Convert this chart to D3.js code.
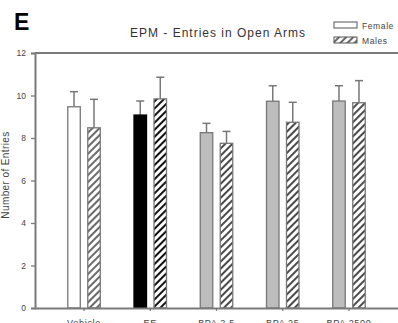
<!DOCTYPE html>
<html>
<head>
<meta charset="utf-8">
<script src="https://cdn.jsdelivr.net/npm/d3@7"></script>
<style>
  html, body { margin: 0; padding: 0; background: #fff; }
  svg { display: block; font-family: Arial, "Liberation Sans", sans-serif; }
</style>
</head>
<body>
<svg id="chart" width="398" height="323"></svg>
<script>
// Treatment groups along the x axis
const groups = ["Vehicle", "EE", "BPA 2.5", "BPA 25", "BPA 2500"];
const sexes = ["Female", "Males"];
// Mean entries into the open arms and the upper error (mean + SEM)
const femaleMean = [9.47, 9.08, 8.25, 9.73, 9.74];
const femaleErr  = [10.18, 9.74, 8.69, 10.46, 10.46];
const maleMean   = [8.48, 9.84, 7.75, 8.74, 9.66];
const maleErr    = [9.82, 10.86, 8.31, 9.68, 10.70];
const yTicks = [0, 2, 4, 6, 8, 10, 12];

// Per-group fill for the female bar and stroke for the male hatch
const femaleFill = ["#ffffff", "#000000", "#bdbdbd", "#bdbdbd", "#bdbdbd"];
const hatchInk   = ["#6a6a6a", "#111111", "#4a4a4a", "#4a4a4a", "#4a4a4a"];

const svg = d3.select("#chart");
const axisColor = "#7a7a7a";
const plotLeft = 35, plotRight = 398, plotTop = 53, plotBottom = 308;

const x = d3.scaleBand().domain(groups).range([plotLeft, plotRight]).paddingOuter(0.24).paddingInner(0);
const xs = d3.scaleBand().domain(sexes).range([-16.25, 16.25]).paddingInner(0.375).paddingOuter(0);
const y = d3.scaleLinear().domain([0, 12]).range([plotBottom, plotTop]);

// Hatch patterns for the male bars
const defs = svg.append("defs");
hatchInk.forEach((c, i) => {
  const p = defs.append("pattern")
    .attr("id", "hatch" + i)
    .attr("patternUnits", "userSpaceOnUse")
    .attr("width", 5).attr("height", 5)
    .attr("patternTransform", "rotate(45)");
  p.append("rect").attr("width", 5).attr("height", 5).attr("fill", "#fff");
  p.append("rect").attr("x", 0).attr("width", 2).attr("height", 5).attr("fill", c);
});

// Panel letter and title
svg.append("text").attr("x", 14).attr("y", 30)
  .attr("font-size", 23).attr("font-weight", "bold").attr("fill", "#000").text("E");
svg.append("text").attr("x", 218).attr("y", 37).attr("text-anchor", "middle")
  .attr("font-size", 12).attr("letter-spacing", 1).attr("fill", "#333")
  .text("EPM - Entries in Open Arms");

// Legend
const legend = svg.append("g");
[["Female", "#fff"], ["Males", "url(#hatch0)"]].forEach((d, i) => {
  legend.append("rect").attr("x", 334).attr("y", 22 + i * 15).attr("width", 23).attr("height", 6)
    .attr("fill", d[1]).attr("stroke", "#555").attr("stroke-width", 1);
  legend.append("text").attr("x", 362).attr("y", 29 + i * 15)
    .attr("font-size", 8.5).attr("letter-spacing", 0.6).attr("fill", "#444").text(d[0]);
});

// Top frame line
svg.append("line").attr("x1", plotLeft).attr("x2", plotRight).attr("y1", y(12)).attr("y2", y(12))
  .attr("stroke", axisColor).attr("stroke-width", 2);

// Bars
const rows = [];
groups.forEach((g, i) => {
  rows.push({ g, i, sex: "Female", v: femaleMean[i], e: femaleErr[i], fill: femaleFill[i] });
  rows.push({ g, i, sex: "Males", v: maleMean[i], e: maleErr[i], fill: "url(#hatch" + i + ")" });
});
const cx = d => x(d.g) + x.bandwidth() / 2 + xs(d.sex);

// Error bars (upper only)
const eb = svg.append("g").attr("stroke", "#777").attr("stroke-width", 1.5);
eb.selectAll("line.v").data(rows).join("line")
  .attr("x1", d => cx(d) + xs.bandwidth() / 2).attr("x2", d => cx(d) + xs.bandwidth() / 2)
  .attr("y1", d => y(d.v)).attr("y2", d => y(d.e));
eb.selectAll("line.c").data(rows).join("line")
  .attr("x1", d => cx(d) + xs.bandwidth() / 2 - 4).attr("x2", d => cx(d) + xs.bandwidth() / 2 + 4)
  .attr("y1", d => y(d.e)).attr("y2", d => y(d.e));

svg.append("g").selectAll("rect").data(rows).join("rect")
  .attr("x", d => cx(d)).attr("width", xs.bandwidth())
  .attr("y", d => y(d.v)).attr("height", d => y(0) - y(d.v))
  .attr("fill", d => d.fill)
  .attr("stroke", d => d.g === "EE" && d.sex === "Female" ? "#000" : "#777")
  .attr("stroke-width", 1.3);

// Y axis
const yAxis = svg.append("g").attr("transform", `translate(${plotLeft},0)`)
  .call(d3.axisLeft(y).tickValues(yTicks).tickSize(4).tickPadding(5));
yAxis.select(".domain").attr("stroke", axisColor).attr("stroke-width", 2);
yAxis.selectAll(".tick line").attr("stroke", axisColor).attr("stroke-width", 1.3);
yAxis.selectAll(".tick text").attr("font-size", 8.5).attr("fill", "#444").attr("font-family", "Arial, sans-serif");

// X axis
const xAxis = svg.append("g").attr("transform", `translate(0,${plotBottom})`)
  .call(d3.axisBottom(x).tickSize(3).tickPadding(4).tickSizeOuter(0));
xAxis.select(".domain").attr("stroke", axisColor).attr("stroke-width", 2);
xAxis.selectAll(".tick line").attr("stroke", axisColor).attr("stroke-width", 1.3);
xAxis.selectAll(".tick text").attr("font-size", 9).attr("letter-spacing", 0.7)
  .attr("fill", "#444").attr("font-family", "Arial, sans-serif")
  .attr("y", 12).attr("dy", "0.71em");

// Y axis title
svg.append("text")
  .attr("transform", "translate(9,175) rotate(-90)")
  .attr("text-anchor", "middle").attr("font-size", 10).attr("letter-spacing", 0.4).attr("fill", "#444")
  .text("Number of Entries");
</script>
</body>
</html>
